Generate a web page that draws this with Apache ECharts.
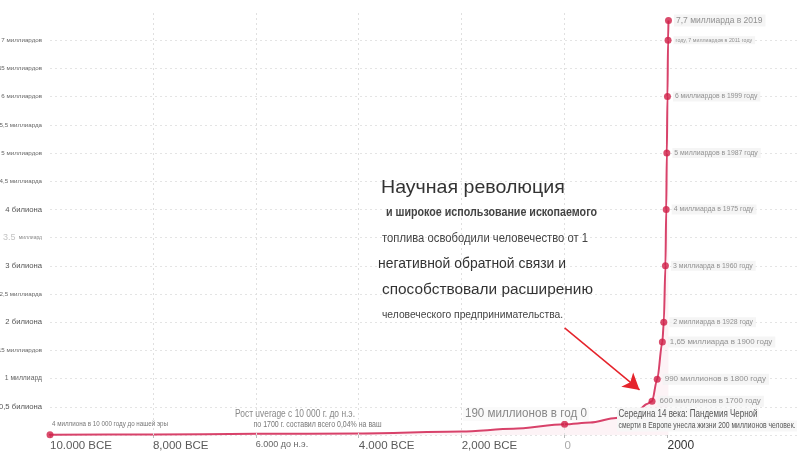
<!DOCTYPE html>
<html>
<head>
  <meta charset="UTF-8">
  <title>Рост населения</title>
  <script src="https://cdn.jsdelivr.net/npm/echarts@6/dist/echarts.min.js"></script>
</head>
<style type="text/css">
    html,body {padding: 0; margin: 0; background: #fff}
    #chart {width: 800px; height: 464px;}
</style>
<body>
<div id="chart"></div>
<script type="text/javascript">

    // население мира, млрд
    var years = [-10000, -8000, -6000, -4000, -2000, -1000, 0, 500, 1000, 1300, 1450, 1600, 1700, 1800, 1900, 1928, 1960, 1975, 1987, 1999, 2011, 2019];
    var population = [0.004, 0.01, 0.02, 0.027, 0.06, 0.11, 0.19, 0.22, 0.3, 0.4, 0.45, 0.55, 0.6, 0.99, 1.65, 2, 3, 4, 5, 6, 7, 7.35];

    // точки с подписями
    var markYears = [-10000, 0, 1700, 1800, 1900, 1928, 1960, 1975, 1987, 1999, 2011, 2019];
    var markValues = [0.004, 0.19, 0.6, 0.99, 1.65, 2, 3, 4, 5, 6, 7, 7.35];
    var markLabels = ['', '', '600 миллионов в 1700 году', '990 миллионов в 1800 году', '1,65 миллиарда в 1900 году',
        ' 2 миллиарда в 1928 году', '3 миллиарда в 1960 году', '4 миллиарда в 1975 году', '5 миллиардов в 1987 году',
        '6 миллиардов в 1999 году', 'году, 7 миллиардов в 2011 году', '7,7 миллиарда в 2019'];

    // пунктир слева от 10 000 до н.э.
    var leadYears = [-11000, -10000];
    var leadValues = [0.004, 0.004];

    var xTickValues = [-10000, -8000, -6000, -4000, -2000, 0, 2000];
    var xTickLabels = ['10.000 BCE', '8,000 BCE', '6.000 до н.э.', '4.000 BCE', '2,000 BCE', '0', '2000'];
    var vGridYears = [-8000, -6000, -4000, -2000, 0];

    var yTickValues = [0.5, 1, 1.5, 2, 2.5, 3, 3.5, 4, 4.5, 5, 5.5, 6, 6.5, 7];
    var yTickLabels = ['0,5 билиона', '1 миллиард', '15 миллиардов', '2 билиона', '2,5 миллиарда', '3 билиона', '3.5 миллиард',
        '4 билиона', '4,5 миллиарда', '5 миллиардов', '5,5 миллиарда', '6 миллиардов', '65 миллиардов', '7 миллиардов'];

    // стрелка к середине 14 века
    var arrowFrom = [0, 1.9];
    var arrowTo = [1457, 0.8];

    var SANS = "'Liberation Sans', Arial, sans-serif";
    var markLabelSize = [0, 0, 8, 8, 7.9, 6.9, 6.9, 6.9, 6.9, 6.8, 5.3, 8.5];

    function pairs(xs, ys) {
        return xs.map(function (x, i) { return [x, ys[i]]; });
    }

    // узкий текст: сжимаем по ширине через scaleX
    var measureCtx = document.createElement('canvas').getContext('2d');
    function note(text, x, y, size, width, extra) {
        var font = (extra && extra.bold ? 'bold ' : '') + size + 'px ' + SANS;
        measureCtx.font = font;
        var w = measureCtx.measureText(text).width;
        var el = {
            type: 'text', x: x, y: y, z: 10,
            scaleX: Math.min(1.03, width / w),
            style: {text: text, font: font, fill: (extra && extra.fill) || '#444', verticalAlign: 'middle'}
        };
        if (extra && extra.bg) {
            el.style.backgroundColor = extra.bg;
            el.style.padding = [1, 2];
        }
        return el;
    }

    var markData = markYears.map(function (y, i) {
        return {
            value: [y, markValues[i]],
            label: {show: markLabels[i] !== '', fontSize: markLabelSize[i]}
        };
    });

    var option = {
        animation: false,
        grid: {left: 50, right: 0, top: 12, bottom: 29, containLabel: false, outerBoundsMode: 'none'},
        xAxis: {
            type: 'value',
            min: -10000,
            max: 4575,
            interval: 2000,
            axisLine: {show: false},
            axisTick: {show: true, length: 3, lineStyle: {color: '#bbb'}, customValues: xTickValues},
            splitLine: {show: false},
            axisLabel: {
                align: 'left',
                margin: 5,
                customValues: xTickValues,
                formatter: function (v) {
                    var i = xTickValues.indexOf(v);
                    if (i < 0) return '';
                    var t = xTickLabels[i];
                    if (v === -6000) return '{n|' + t + '}';
                    if (v === 0) return '{z|' + t + '}';
                    if (v === 2000) return '{d|' + t + '}';
                    return '{a|' + t + '}';
                },
                rich: {
                    a: {fontFamily: SANS, fontSize: 11.5, color: '#5a5a5a'},
                    n: {fontFamily: SANS, fontSize: 9, color: '#666'},
                    z: {fontFamily: SANS, fontSize: 11.5, color: '#aaa'},
                    d: {fontFamily: SANS, fontSize: 12, color: '#333'}
                }
            }
        },
        yAxis: {
            type: 'value',
            min: 0,
            max: 7.5,
            interval: 0.5,
            axisLine: {show: false},
            axisTick: {show: false},
            splitLine: {showMaxLine: false, lineStyle: {color: '#e4e4e4', type: [2, 3]}},
            axisLabel: {
                margin: 8,
                formatter: function (v) {
                    var i = yTickValues.indexOf(v);
                    if (i < 0) return '';
                    var t = yTickLabels[i];
                    if (t === '3.5 миллиард') return '{f|3.5} {t|миллиард}';
                    if (t.indexOf('билиона') > 0) return '{b|' + t + '}';
                    if (v === 1) return '{m|' + t + '}';
                    return '{s|' + t + '}';
                },
                rich: {
                    s: {fontFamily: SANS, fontSize: 6.2, color: '#666'},
                    m: {fontFamily: SANS, fontSize: 6.8, color: '#666'},
                    b: {fontFamily: SANS, fontSize: 7.7, color: '#555'},
                    f: {fontFamily: SANS, fontSize: 9, color: '#c4c4c4'},
                    t: {fontFamily: SANS, fontSize: 5, color: '#888'}
                }
            }
        },
        series: [
            {
                type: 'line',
                data: pairs(leadYears, leadValues),
                clip: false,
                symbol: 'none',
                lineStyle: {color: '#d8426a', width: 1.5, type: [4, 3]},
                z: 3
            },
            {
                type: 'line',
                data: pairs(years, population),
                smooth: 0.3,
                smoothMonotone: 'x',
                clip: false,
                symbol: 'none',
                lineStyle: {color: '#d8426a', width: 2},
                areaStyle: {color: 'rgba(238,150,175,0.16)'},
                z: 3,
                markLine: {
                    silent: true,
                    symbol: ['none', 'none'],
                    label: {show: false},
                    lineStyle: {color: '#e0e0e0', type: [2, 3], width: 1},
                    data: vGridYears.map(function (y) { return {xAxis: y}; })
                }
            },
            {
                type: 'line',
                data: [],
                markLine: {
                    silent: true,
                    symbol: ['none', 'arrow'],
                    symbolSize: [14, 16],
                    label: {show: false},
                    lineStyle: {color: '#e5232b', width: 1.5, type: 'solid'},
                    data: [[{coord: arrowFrom}, {coord: arrowTo}]]
                }
            },
            {
                type: 'scatter',
                data: markData,
                clip: false,
                symbolSize: 7,
                itemStyle: {color: '#cf1f47'},
                z: 5,
                label: {
                    position: 'right',
                    distance: 2,
                    fontFamily: SANS,
                    color: '#777',
                    backgroundColor: '#f2f2f2',
                    padding: [2, 3, 1, 2],
                    formatter: function (p) { return markLabels[p.dataIndex]; }
                }
            }
        ],
        graphic: [
            note('Научная революция', 381, 188, 19, 195, {fill: '#333'}),
            note('и широкое использование ископаемого', 386, 213, 12, 211, {bold: true, fill: '#444'}),
            note('топлива освободили человечество от 1', 382, 239, 12, 206, {fill: '#444'}),
            note('негативной обратной связи и', 378, 264, 14.5, 188, {fill: '#333'}),
            note('способствовали расширению', 382, 290, 15.5, 211, {fill: '#333'}),
            note('человеческого предпринимательства.', 382, 315, 10, 183, {fill: '#444'}),

            note('4 миллиона в 10 000 году до нашей эры', 52, 424, 8, 116, {fill: '#777'}),
            note('Рост uverage с 10 000 г. до н.э.', 235, 414, 11, 120, {fill: '#888'}),
            note('по 1700 г. составил всего 0,04% на ваш', 252, 425, 9, 128, {fill: '#777', bg: '#fff'}),
            note('190 миллионов в год 0', 463, 414, 12, 122, {fill: '#888', bg: '#fafafa'}),
            note('Середина 14 века: Пандемия Черной', 617, 414, 10.5, 139, {fill: '#555', bg: '#f7f7f7'}),
            note('смерти в Европе унесла жизни 200 миллионов человек.', 617, 426, 9, 177, {fill: '#555', bg: '#f7f7f7'})
        ]
    };

    var myChart = echarts.init(document.getElementById('chart'));
    myChart.setOption(option, true);

</script>
</body>
</html>
